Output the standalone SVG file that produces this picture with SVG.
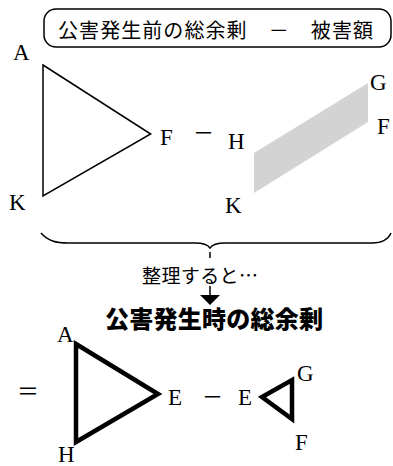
<svg xmlns="http://www.w3.org/2000/svg" width="393" height="466" viewBox="0 0 393 466">
<style>
.lbl{font-family:"Liberation Serif","DejaVu Serif",serif;font-size:23px;fill:#000}
.jp{font-family:"Noto Sans CJK JP",sans-serif;fill:#000}
.thin{fill:none;stroke:#000;stroke-width:1.5}
.thick{fill:none;stroke:#000;stroke-width:4.5;stroke-linejoin:miter}
</style>
<rect width="393" height="466" fill="#fff"/>
<g id="title-box">
<rect class="thin" x="44" y="9" width="347" height="38" rx="12"/>
<text class="jp" x="58" y="38" font-size="20" textLength="315" lengthAdjust="spacing">公害発生前の総余剰　－　被害額</text>
</g>
<g id="triangle-AFK">
<polygon class="thin" points="43,65 150.7,134 43,196"/>
<text class="lbl" x="13" y="60">A</text>
<text class="lbl" x="160" y="145">F</text>
<text class="lbl" x="9" y="210">K</text>
</g>
<text class="jp" x="193" y="140" font-size="21">－</text>
<g id="parallelogram-HGFK">
<polygon points="254,153 368,83 368,122 254,193" fill="#d3d3d3"/>
<text class="lbl" x="228" y="149">H</text>
<text class="lbl" x="370" y="90">G</text>
<text class="lbl" x="377" y="134">F</text>
<text class="lbl" x="225" y="213">K</text>
</g>
<g id="connectors">
<path class="thin" d="M41,233 C48,241 56,243 68,243 L195,243 C204,243 208,245 210,248 C212,245 216,243 225,243 L372,243 C382,243 388,240 391,233"/>
<line x1="210" y1="252" x2="210" y2="258" stroke="#000" stroke-width="1.5"/>
<line x1="210" y1="286" x2="210" y2="296" stroke="#000" stroke-width="1.5"/>
<polygon points="200,295 220,295 210,305" fill="#000"/>
</g>
<g id="note">
<text class="jp" x="142" y="283" font-size="19" textLength="116" lengthAdjust="spacing">整理すると…</text>
</g>
<g id="result-title">
<text class="jp" x="105" y="328" font-size="24" font-weight="900" textLength="218" lengthAdjust="spacing">公害発生時の総余剰</text>
</g>
<text class="jp" x="17" y="399" font-size="22">＝</text>
<g id="triangle-AEH">
<polygon class="thick" points="76,344 158,394 76,442"/>
<text class="lbl" x="57" y="342">A</text>
<text class="lbl" x="168" y="405">E</text>
<text class="lbl" x="58" y="462">H</text>
</g>
<text class="jp" x="202" y="404" font-size="21">－</text>
<g id="triangle-EGF">
<polygon class="thick" points="262,397 292,380 292,419"/>
<text class="lbl" x="238" y="405">E</text>
<text class="lbl" x="297" y="381">G</text>
<text class="lbl" x="295" y="450">F</text>
</g>
</svg>
